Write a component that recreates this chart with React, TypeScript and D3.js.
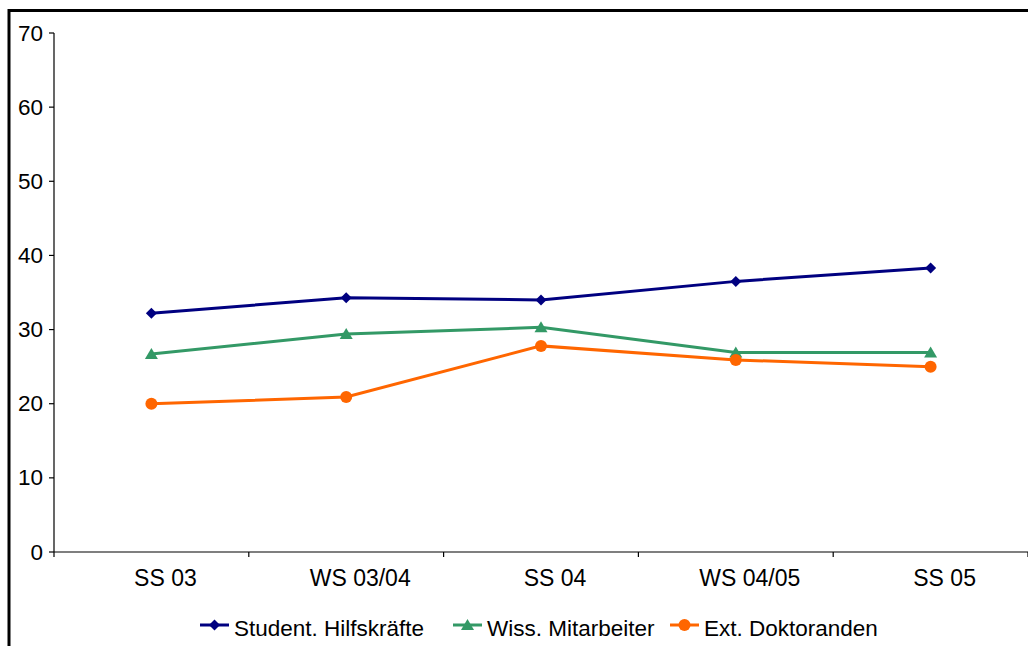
import React from "react";
import * as d3 from "d3";

const categories = ["SS 03", "WS 03/04", "SS 04", "WS 04/05", "SS 05"];
const studentValues = [32.2, 34.3, 34.0, 36.5, 38.3];
const wissValues = [26.7, 29.4, 30.3, 26.9, 26.9];
const extValues = [20.0, 20.9, 27.8, 25.9, 25.0];
const yTicks = [0, 10, 20, 30, 40, 50, 60, 70];
const seriesNames = ["Student. Hilfskräfte", "Wiss. Mitarbeiter", "Ext. Doktoranden"];

const W = 1028;
const H = 646;
const left = 54;
const right = 1028;
const top = 33;
const bottom = 552;
const font = "Liberation Sans, Arial, sans-serif";

const colors = ["#000080", "#339966", "#FF6600"];

function Marker({ kind, x, y, color }: { kind: string; x: number; y: number; color: string }) {
  if (kind === "diamond") {
    const r = 5.5;
    return (
      <path
        d={`M${x},${y - r}L${x + r},${y}L${x},${y + r}L${x - r},${y}Z`}
        fill={color}
      />
    );
  }
  if (kind === "triangle") {
    return (
      <path
        d={`M${x},${y - 6}L${x + 6.5},${y + 5}L${x - 6.5},${y + 5}Z`}
        fill={color}
      />
    );
  }
  return <circle cx={x} cy={y} r={6} fill={color} />;
}

export default function App() {
  const x = d3.scaleBand<string>().domain(categories).range([left, right]);
  const y = d3.scaleLinear().domain([0, 70]).range([bottom, top]);
  const cx = (c: string) => (x(c) as number) + x.bandwidth() / 2;
  const line = d3
    .line<number>()
    .x((_, i) => cx(categories[i]))
    .y((d) => y(d));
  const series = [
    { name: seriesNames[0], values: studentValues, color: colors[0], kind: "diamond" },
    { name: seriesNames[1], values: wissValues, color: colors[1], kind: "triangle" },
    { name: seriesNames[2], values: extValues, color: colors[2], kind: "circle" },
  ];
  const boundaries = categories.map((c) => x(c) as number).concat([right]);
  const legendX = [200, 453, 670];

  return (
    <svg
      width={W}
      height={H}
      style={{ position: "absolute", left: 0, top: 0, background: "#fff" }}
      fontFamily={font}
    >
      <rect x={0} y={0} width={W} height={H} fill="#fff" />
      <rect x={9} y={10.5} width={W + 20} height={H + 20} fill="none" stroke="#000" strokeWidth={3} />
      {/* y axis */}
      <line x1={left} x2={left} y1={top} y2={bottom} stroke="#000" strokeWidth={1.2} />
      {yTicks.map((t) => (
        <g key={t}>
          <line x1={left - 5} x2={left} y1={y(t)} y2={y(t)} stroke="#000" strokeWidth={1.2} />
          <text x={43} y={y(t) + 7.5} textAnchor="end" fontSize={22.5} fill="#000">
            {t}
          </text>
        </g>
      ))}
      {/* x axis */}
      <line x1={left} x2={right} y1={bottom} y2={bottom} stroke="#000" strokeWidth={1.2} />
      {boundaries.map((b, i) => (
        <line key={i} x1={b} x2={b} y1={bottom} y2={bottom + 5} stroke="#000" strokeWidth={1.2} />
      ))}
      {categories.map((c) => (
        <text key={c} x={cx(c) + 14} y={586} textAnchor="middle" fontSize={23} fill="#000">
          {c}
        </text>
      ))}
      {series.map((s) => (
        <g key={s.name}>
          <path d={line(s.values) || ""} fill="none" stroke={s.color} strokeWidth={3} />
          {s.values.map((v, i) => (
            <Marker key={i} kind={s.kind} x={cx(categories[i])} y={y(v)} color={s.color} />
          ))}
        </g>
      ))}
      {/* legend */}
      {series.map((s, i) => (
        <g key={s.name}>
          <line x1={legendX[i]} x2={legendX[i] + 29} y1={625} y2={625} stroke={s.color} strokeWidth={3} />
          <Marker kind={s.kind} x={legendX[i] + 14.5} y={625} color={s.color} />
          <text x={legendX[i] + 34} y={636} fontSize={22.5} fill="#000">
            {s.name}
          </text>
        </g>
      ))}
    </svg>
  );
}
